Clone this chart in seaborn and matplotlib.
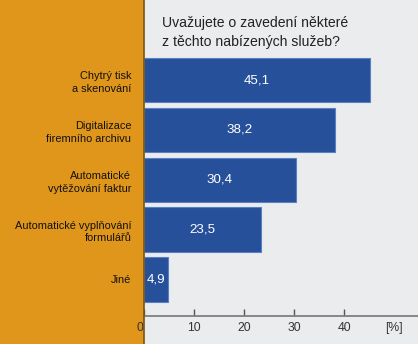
import matplotlib
matplotlib.use("Agg")
import matplotlib.pyplot as plt
import seaborn as sns
import pandas as pd
from matplotlib.patches import Rectangle
from matplotlib.lines import Line2D

categories = ["Chytrý tisk\na skenování", "Digitalizace\nfiremního archivu",
              "Automatické\nvytěžování faktur", "Automatické vyplňování\nformulářů", "Jiné"]
values = [45.1, 38.2, 30.4, 23.5, 4.9]
xticks = [0, 10, 20, 30, 40, 50]
xticklabels = ["0", "10", "20", "30", "40", "[%]"]
title_lines = ["Uvažujete o zavedení některé", "z těchto nabízených služeb?"]

sns.set_theme(style="white")
plt.rcParams['font.family'] = ['Liberation Sans', 'DejaVu Sans']

W, H = 418, 344
fig = plt.figure(figsize=(W / 100, H / 100), dpi=100)
bg = "#ebeced"
fig.patch.set_facecolor(bg)

x0 = 143.7 / W
fig.patches.append(Rectangle((0, 0), x0, 1, transform=fig.transFigure,
                             facecolor="#e0961a", edgecolor="none", zorder=-1))

ax = fig.add_axes([x0, 28 / H, 1 - x0, 1 - 28 / H])
ax.set_facecolor(bg)

df = pd.DataFrame({"cat": categories, "val": values})
sns.barplot(data=df, x="val", y="cat", orient="h", color="#27509b",
            saturation=1, width=0.895, edgecolor="#5a7fc4", linewidth=0.8, ax=ax)

ax.set_xlim(0, (W - 143.7) / 5.01)
ax.set_ylim(4.735, -1.610)

labels = [f"{v:.1f}".replace(".", ",") for v in values]
ax.bar_label(ax.containers[0], labels=labels, label_type="center",
             color="white", fontsize=9.6)

for s in ["top", "right", "left"]:
    ax.spines[s].set_visible(False)
ax.spines["bottom"].set_color("#7f7f7f")
ax.spines["bottom"].set_linewidth(1.3)

ax.set_xticks(xticks)
ax.set_xticklabels(xticklabels)
ax.tick_params(axis="x", direction="in", length=5, width=1, color="#555555",
               labelsize=8.8, labelcolor="#333333", pad=4, bottom=True)
ax.xaxis.get_major_ticks()[-1].tick1line.set_visible(False)
ax.get_xticklabels()[0].set_horizontalalignment("right")

ax.tick_params(axis="y", length=0, pad=9, labelsize=7.9, labelcolor="#111111")
for t in ax.get_yticklabels():
    t.set_horizontalalignment("right")
    t.set_multialignment("right")
    t.set_linespacing(1.35)
ax.set_xlabel("")
ax.set_ylabel("")

fig.add_artist(Line2D([x0, x0], [0, 1], transform=fig.transFigure,
                      color="#7a5414", linewidth=1.2))

fig.text(162 / W, 1 - 23 / H, title_lines[0], fontsize=10.1, color="#222222", va="center", ha="left")
fig.text(162 / W, 1 - 42 / H, title_lines[1], fontsize=10.1, color="#222222", va="center", ha="left")

fig.savefig("out.png", dpi=100, facecolor=bg)
